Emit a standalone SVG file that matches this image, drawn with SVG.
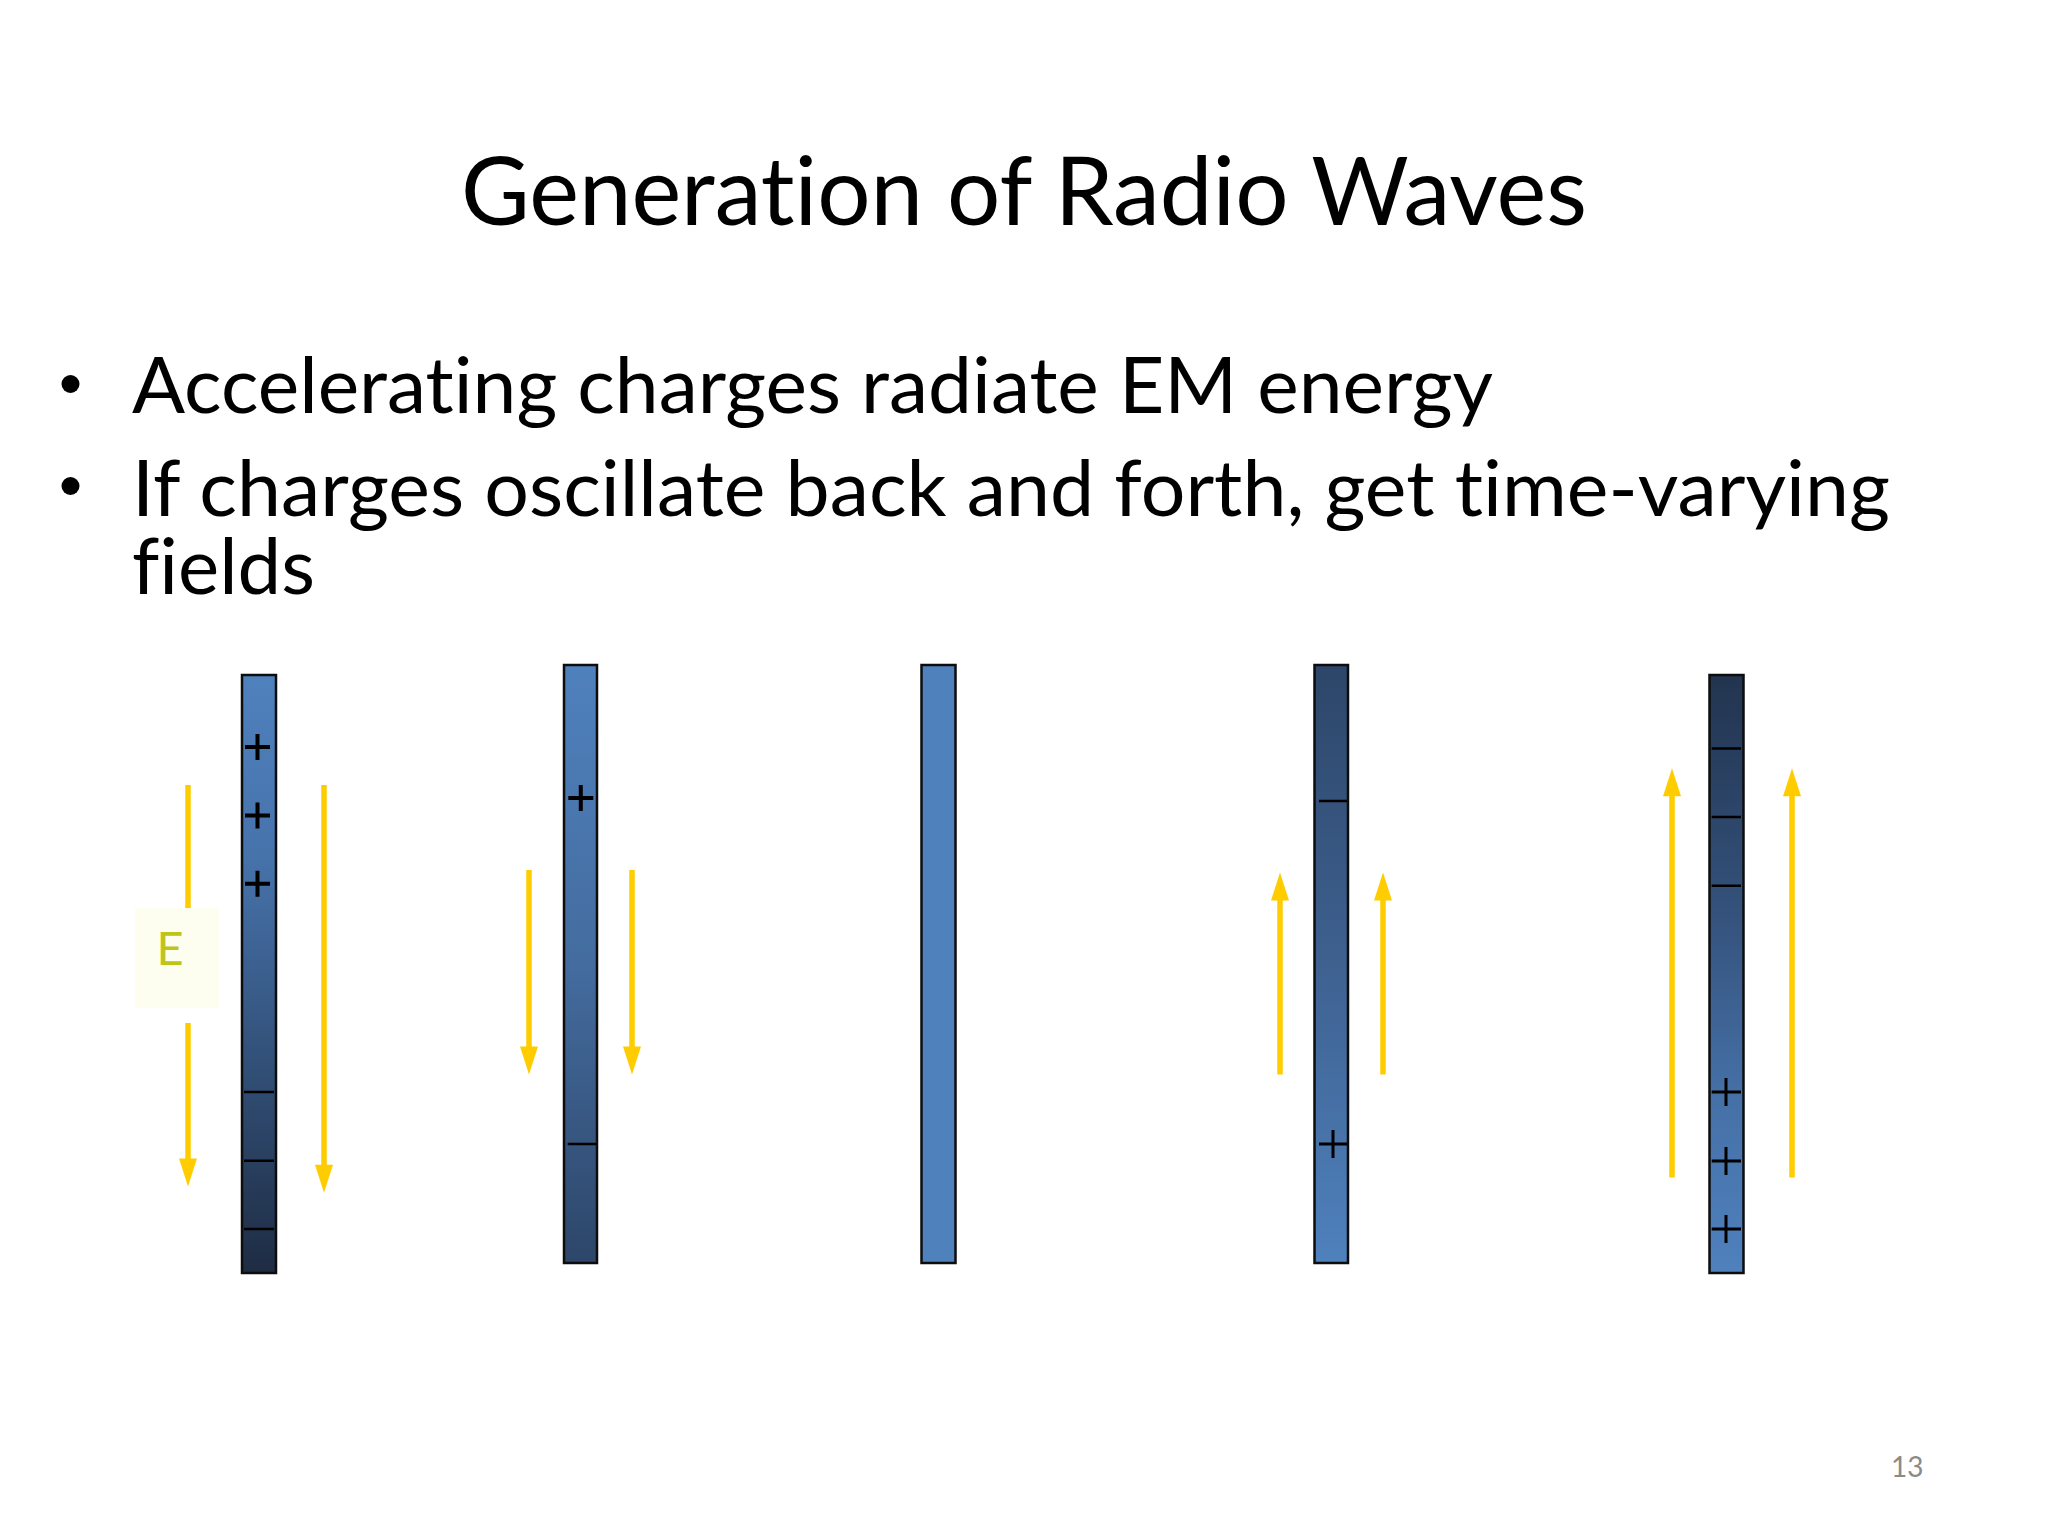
<svg xmlns="http://www.w3.org/2000/svg" width="2048" height="1536" viewBox="0 0 2048 1536">
  <defs>
    <style>
      text { font-variant-ligatures: none; font-feature-settings: "liga" 0, "clig" 0, "dlig" 0; }
      .title { font-family: Lato, "Open Sans", "Liberation Sans", sans-serif; font-size: 95px; fill: #000; }
      .bullet { font-family: Lato, "Open Sans", "Liberation Sans", sans-serif; font-size: 78px; fill: #000; }
      .pnum { font-family: Lato, "Liberation Sans", sans-serif; font-size: 28px; fill: #8a8a8a; }
      .elabel { font-family: Lato, "Liberation Sans", sans-serif; font-size: 47px; fill: #BFC41A; }
      .rod { stroke: #0d0d0d; stroke-width: 2.5; }
      .minus { stroke: #000; stroke-width: 2.5; fill: none; }
      .plusB { stroke: #000; stroke-width: 4; fill: none; }
      .plusT { stroke: #000; stroke-width: 3; fill: none; }
      .arrow { stroke: #FFCC00; stroke-width: 5.5; fill: none; }
      .arrowE { marker-end: url(#head); }
    </style>
    <marker id="head" markerUnits="userSpaceOnUse" markerWidth="30" markerHeight="18" viewBox="0 0 28 18" refX="2" refY="9" orient="auto">
      <path d="M0,0 L28,9 L0,18 z" fill="#FFCC00"/>
    </marker>
    <linearGradient id="g1" x1="0" y1="0" x2="0" y2="1">
      <stop offset="0" stop-color="#4F81BD"/>
      <stop offset="0.3" stop-color="#4773AB"/>
      <stop offset="0.6" stop-color="#35557F"/>
      <stop offset="1" stop-color="#1E2C43"/>
    </linearGradient>
    <linearGradient id="g2" x1="0" y1="0" x2="0" y2="1">
      <stop offset="0" stop-color="#4F81BD"/>
      <stop offset="0.5" stop-color="#446C9F"/>
      <stop offset="1" stop-color="#2D4669"/>
    </linearGradient>
    <linearGradient id="g4" x1="0" y1="0" x2="0" y2="1">
      <stop offset="0" stop-color="#2D4669"/>
      <stop offset="0.5" stop-color="#3E6190"/>
      <stop offset="1" stop-color="#4F81BD"/>
    </linearGradient>
    <linearGradient id="g5" x1="0" y1="0" x2="0" y2="1">
      <stop offset="0" stop-color="#22344F"/>
      <stop offset="0.4" stop-color="#34527C"/>
      <stop offset="0.7" stop-color="#4570A6"/>
      <stop offset="1" stop-color="#4F81BD"/>
    </linearGradient>
  </defs>

  <rect x="0" y="0" width="2048" height="1536" fill="#ffffff"/>

  <g id="title">
    <text class="title" x="461" y="225" textLength="1126" lengthAdjust="spacingAndGlyphs">Generation of Radio Waves</text>
  </g>

  <g id="bullets">
    <circle cx="70.5" cy="384" r="9" fill="#000"/>
    <text class="bullet" x="132" y="413" textLength="1361" lengthAdjust="spacingAndGlyphs">Accelerating charges radiate EM energy</text>
    <circle cx="70.5" cy="486" r="9" fill="#000"/>
    <text class="bullet" x="132" y="516" textLength="1758" lengthAdjust="spacingAndGlyphs">If charges oscillate back and forth, get time-varying</text>
    <text class="bullet" x="132" y="594" textLength="183" lengthAdjust="spacingAndGlyphs">fields</text>
  </g>

  <g id="rod1">
    <rect class="rod" x="242" y="675" width="34" height="598" fill="url(#g1)"/>
    <path class="plusB" d="M245,747 H270 M257.5,734 V760 M245,815.5 H270 M257.5,802.5 V828.5 M245,883.7 H270 M257.5,870.7 V896.7"/>
    <path class="minus" d="M244,1092 H274 M244,1160.8 H274 M244,1229 H274"/>
  </g>

  <g id="rod2">
    <rect class="rod" x="564" y="665" width="33" height="598" fill="url(#g2)"/>
    <path class="plusB" d="M568.3,798 H593.3 M580.8,785 V811"/>
    <path class="minus" d="M567.7,1144 H596"/>
  </g>

  <g id="rod3">
    <rect class="rod" x="921.5" y="665" width="34" height="598" fill="#4F81BD"/>
  </g>

  <g id="rod4">
    <rect class="rod" x="1314.5" y="665" width="33.5" height="598" fill="url(#g4)"/>
    <path class="minus" d="M1319,801 H1347"/>
    <path class="plusT" d="M1319,1144 H1347 M1333,1130 V1158"/>
  </g>

  <g id="rod5">
    <rect class="rod" x="1709.5" y="675" width="34" height="598" fill="url(#g5)"/>
    <path class="minus" d="M1711.7,748.6 H1741 M1711.7,817 H1741 M1711.7,885.7 H1741"/>
    <path class="plusT" d="M1711.7,1092 H1741 M1726,1078 V1106 M1711.7,1161 H1741 M1726,1147 V1175 M1711.7,1229 H1741 M1726,1215 V1243"/>
  </g>

  <g id="E-label">
    <rect x="135" y="908" width="84" height="100" fill="#FDFEEF"/>
    <text class="elabel" x="170" y="965" text-anchor="middle">E</text>
  </g>

  <g id="connectors">
    <line class="arrow" x1="188" y1="785" x2="188" y2="908"/>
    <line class="arrow arrowE" x1="188" y1="1023" x2="188" y2="1160.5"/>
    <line class="arrow arrowE" x1="324" y1="785" x2="324" y2="1166.7"/>
    <line class="arrow arrowE" x1="529" y1="870" x2="529" y2="1048.5"/>
    <line class="arrow arrowE" x1="632" y1="870" x2="632" y2="1048.5"/>
    <line class="arrow arrowE" x1="1280" y1="1074.5" x2="1280" y2="898.4"/>
    <line class="arrow arrowE" x1="1383" y1="1074.5" x2="1383" y2="898.4"/>
    <line class="arrow arrowE" x1="1672" y1="1177.6" x2="1672" y2="794.2"/>
    <line class="arrow arrowE" x1="1792" y1="1177.6" x2="1792" y2="794.2"/>
  </g>

  <g id="page-number">
    <text class="pnum" x="1891" y="1477">13</text>
  </g>
</svg>
